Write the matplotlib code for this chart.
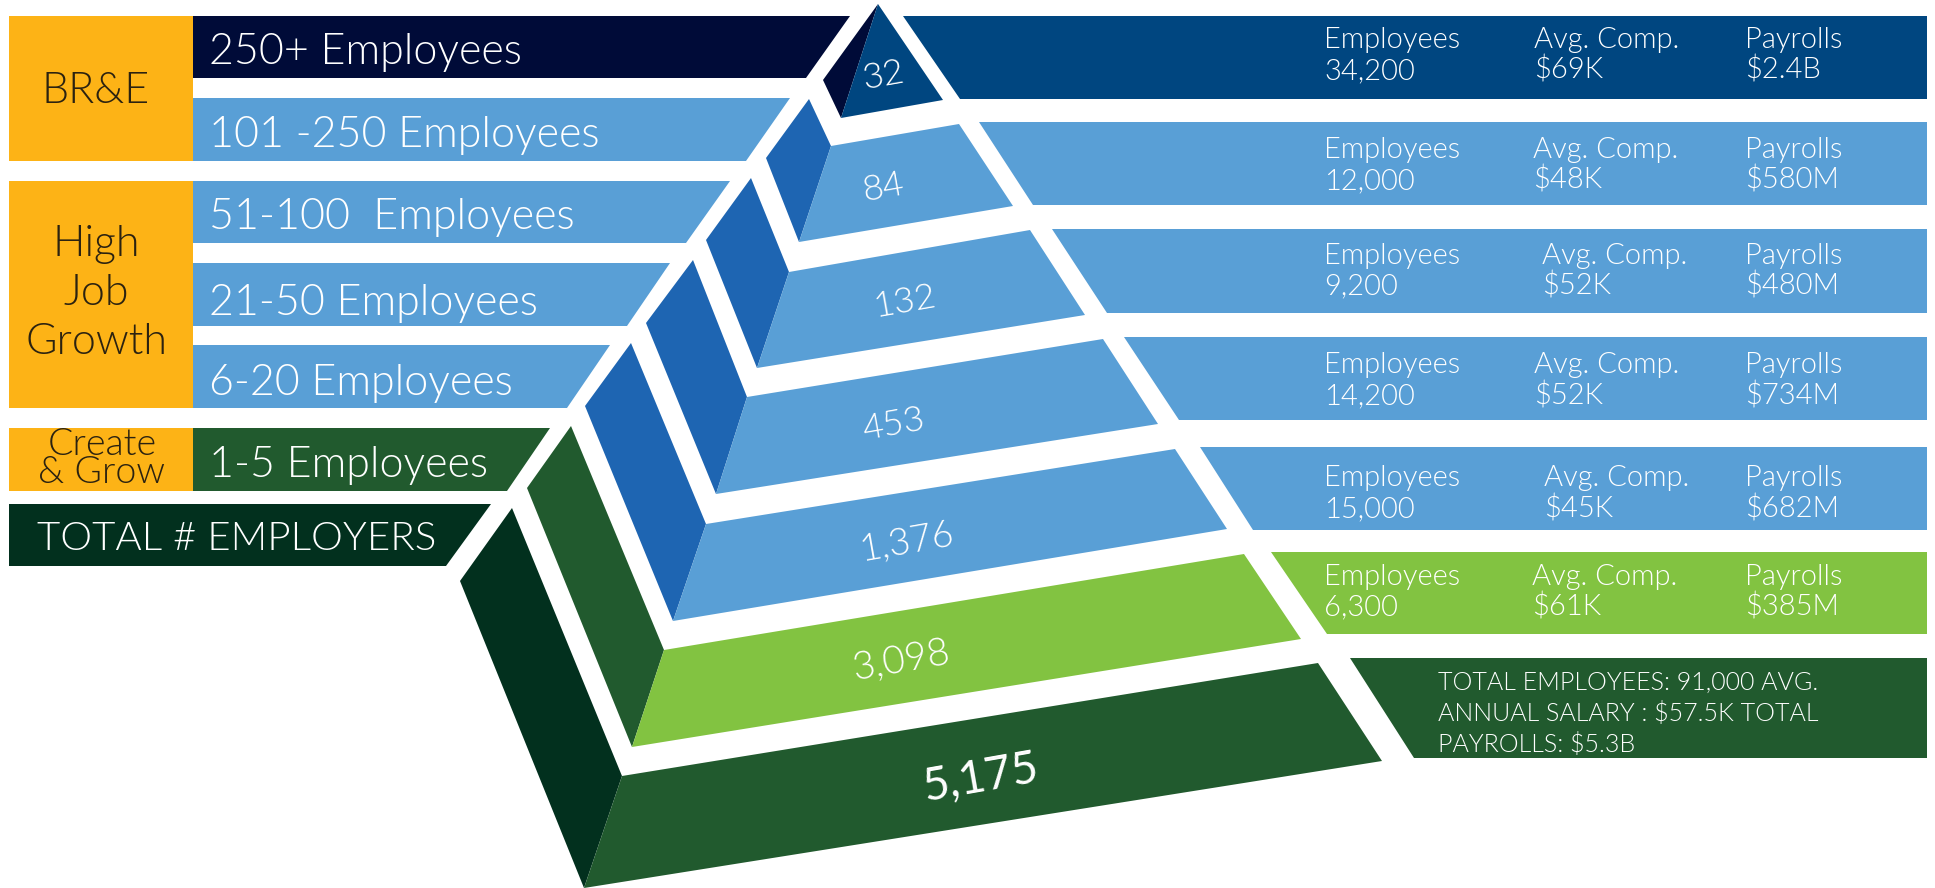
import matplotlib
matplotlib.use('Agg')
import matplotlib.pyplot as plt
from matplotlib.patches import Polygon

plt.rcParams['font.family'] = ['Lato', 'Open Sans', 'DejaVu Sans']

# values
size_labels = ['250+ Employees', '101 -250 Employees', '51-100  Employees', '21-50 Employees',
               '6-20 Employees', '1-5 Employees']
employers = ['32', '84', '132', '453', '1,376', '3,098', '5,175']
employees = ['34,200', '12,000', '9,200', '14,200', '15,000', '6,300']
avg_comp = ['$69K', '$48K', '$52K', '$52K', '$45K', '$61K']
payrolls = ['$2.4B', '$580M', '$480M', '$734M', '$682M', '$385M']
total_lines = ['TOTAL EMPLOYEES: 91,000 AVG.', 'ANNUAL SALARY : $57.5K TOTAL', 'PAYROLLS: $5.3B']

ORANGE = '#FDB316'
NAVY = '#000B38'
DEEP = '#004680'
MID = '#599FD6'
SIDE = '#1E65B2'
GREEN = '#215A2E'
LIME = '#82C341'
DARK = '#02301E'
INK = '#2B2210'
LIGHT = 300

# pyramid geometry in picture pixels
sides = [
    [(878, 4), (823, 80), (841, 118)],
    [(809, 99), (766, 158), (799, 242), (831, 146)],
    [(751, 178), (706, 240), (757, 368), (789, 272)],
    [(693, 260), (646, 323), (716, 494), (747, 397)],
    [(631, 343), (585, 406), (673, 621), (706, 524)],
    [(571, 426), (527, 488), (632, 747), (664, 650)],
    [(512, 508), (460, 581), (584, 888), (622, 776)],
]
fronts = [
    [(878, 4), (841, 118), (943, 100)],
    [(831, 146), (799, 242), (1013, 206), (959, 124)],
    [(789, 272), (757, 368), (1085, 315), (1030, 230)],
    [(747, 397), (716, 494), (1158, 424), (1103, 339)],
    [(706, 524), (673, 621), (1227, 529), (1175, 449)],
    [(664, 650), (632, 747), (1301, 639), (1244, 554)],
    [(622, 776), (584, 888), (1382, 761), (1318, 663)],
]
side_colors = [NAVY, SIDE, SIDE, SIDE, SIDE, GREEN, DARK]
front_colors = [DEEP, MID, MID, MID, MID, LIME, GREEN]
number_pos = [(884, 76), (884, 188), (905, 302), (893, 425), (907, 542), (902, 660), (981, 778)]
number_size = [26, 26, 26, 26, 27, 28, 33]
number_weight = [LIGHT, LIGHT, LIGHT, LIGHT, LIGHT, LIGHT, 400]

# left bars: top, bottom, right end at top, right end at bottom
left_bars = [(16, 78, 850, 806), (98, 161, 790, 746), (181, 243, 730, 686),
             (263, 326, 670, 627), (345, 408, 610, 567), (428, 491, 550, 507)]
left_colors = [NAVY, MID, MID, MID, MID, GREEN]
left_base = [64, 147, 229, 315, 395, 477]

# right bars: top, bottom, left end at top, left end at bottom
right_bars = [(16, 99, 903, 960), (122, 205, 979, 1033), (229, 313, 1052, 1107),
              (337, 420, 1124, 1179), (447, 530, 1200, 1253), (552, 634, 1271, 1327),
              (658, 758, 1350, 1414)]
right_colors = [DEEP, MID, MID, MID, MID, LIME, GREEN]
base_top = [48, 158, 264, 373, 486, 585]
base_low = [79, 189, 294, 404, 517, 615]
comp_x = [1534, 1533, 1542, 1534, 1544, 1532]

fig = plt.figure(figsize=(19.35, 8.88), dpi=100)
ax = fig.add_axes([0, 0, 1, 1])
ax.set_xlim(0, 1935)
ax.set_ylim(888, 0)
ax.axis('off')


def shape(pts, color):
    ax.add_patch(Polygon(pts, closed=True, facecolor=color, edgecolor='none'))


for pts, c in zip(sides, side_colors):
    shape(pts, c)
for pts, c in zip(fronts, front_colors):
    shape(pts, c)
for t, (x, y), fs, w in zip(employers, number_pos, number_size, number_weight):
    ax.text(x, y, t, color='white', fontsize=fs, fontweight=w, rotation=10,
            ha='center', va='center', rotation_mode='anchor')

# left side
for (top, bot, xt, xb), c in zip(left_bars, left_colors):
    shape([(193, top), (xt, top), (xb, bot), (193, bot)], c)
for t, y in zip(size_labels, left_base):
    ax.text(209, y, t, color='white', fontsize=31, fontweight=LIGHT, va='baseline')

shape([(9, 504), (491, 504), (446, 566), (9, 566)], DARK)
ax.text(37, 550, 'TOTAL # EMPLOYERS', color='white', fontsize=29, fontweight=LIGHT, va='baseline')

shape([(9, 16), (193, 16), (193, 161), (9, 161)], ORANGE)
shape([(9, 181), (193, 181), (193, 408), (9, 408)], ORANGE)
shape([(9, 428), (193, 428), (193, 491), (9, 491)], ORANGE)
ax.text(96, 103, 'BR&E', color=INK, fontsize=31, fontweight=LIGHT, ha='center', va='baseline')
for t, y in zip(['High', 'Job', 'Growth'], [256, 305, 354]):
    ax.text(96, y, t, color=INK, fontsize=31, fontweight=LIGHT, ha='center', va='baseline')
ax.text(102, 459, 'Create\n& Grow', color=INK, fontsize=27, fontweight=LIGHT, ha='center',
        va='center', multialignment='center', linespacing=0.8)

# right side
for (top, bot, xt, xb), c in zip(right_bars, right_colors):
    shape([(xt, top), (1927, top), (1927, bot), (xb, bot)], c)
for i in range(6):
    ax.text(1324, base_top[i], 'Employees', color='white', fontsize=21, fontweight=LIGHT, va='baseline')
    ax.text(1324, base_low[i], employees[i], color='white', fontsize=21, fontweight=LIGHT, va='baseline')
    ax.text(comp_x[i], base_top[i], 'Avg. Comp.', color='white', fontsize=21, fontweight=LIGHT, va='baseline')
    ax.text(comp_x[i], base_low[i], avg_comp[i], color='white', fontsize=21, fontweight=LIGHT, va='baseline')
    ax.text(1745, base_top[i], 'Payrolls', color='white', fontsize=21, fontweight=LIGHT, va='baseline')
    ax.text(1745, base_low[i], payrolls[i], color='white', fontsize=21, fontweight=LIGHT, va='baseline')
for t, y in zip(total_lines, [690, 721, 752]):
    ax.text(1438, y, t, color='white', fontsize=18, fontweight=LIGHT, va='baseline')

fig.savefig('out.png', dpi=100)
